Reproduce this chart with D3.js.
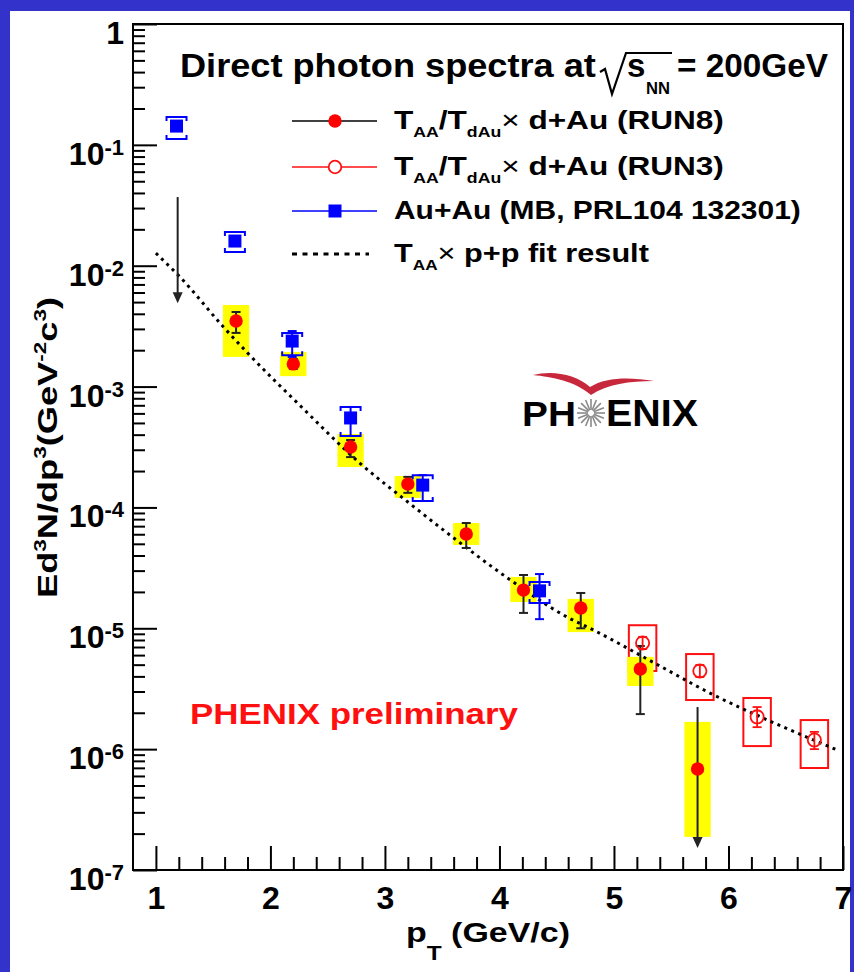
<!DOCTYPE html>
<html><head><meta charset="utf-8">
<script src="https://cdn.jsdelivr.net/npm/d3@7/dist/d3.min.js"></script>
<style>html,body{margin:0;padding:0;background:#3333cc;}svg{display:block;}text{white-space:pre;}</style>
</head><body>
<svg id="chart" width="854" height="972"></svg>
<script>
// ---------------- data ----------------
const xTicks = [1, 2, 3, 4, 5, 6, 7];
const xTickLabels = ["1", "2", "3", "4", "5", "6", "7"];
const yTicks = [1e-7, 1e-6, 1e-5, 1e-4, 1e-3, 1e-2, 1e-1, 1];
const yTickExps = ["-7", "-6", "-5", "-4", "-3", "-2", "-1", ""];

// T_AA/T_dAu x d+Au (RUN8) - filled red
const run8X = [1.7, 2.2, 2.7, 3.2, 3.71, 4.21, 4.71, 5.23, 5.73];
const run8Y = [3.49e-3, 1.54e-3, 3.16e-4, 1.56e-4, 6.03e-5, 2.07e-5, 1.47e-5, 4.6e-6, 6.85e-7];
const run8StatHi = [4.14e-3, 1.69e-3, 3.61e-4, 1.79e-4, 7.43e-5, 2.76e-5, 1.96e-5, 7.14e-6, 2.23e-6];
const run8StatLo = [2.78e-3, 1.40e-3, 2.61e-4, 1.32e-4, 4.62e-5, 1.34e-5, 1.0e-5, 1.95e-6, 1.52e-7];
const run8SysHi = [4.73e-3, 1.93e-3, 4.05e-4, 1.82e-4, 7.43e-5, 2.66e-5, 1.75e-5, 5.8e-6, 1.68e-6];
const run8SysLo = [1.76e-3, 1.22e-3, 2.16e-4, 1.20e-4, 4.89e-5, 1.65e-5, 9.3e-6, 3.33e-6, 1.88e-7];
const run8Arrow = [false, false, false, false, false, false, false, false, true];

// T_AA/T_dAu x d+Au (RUN3) - open red
const run3X = [5.25, 5.75, 6.25, 6.75];
const run3Y = [7.55e-6, 4.43e-6, 1.85e-6, 1.19e-6];
const run3StatHi = [8.47e-6, 4.97e-6, 2.23e-6, 1.39e-6];
const run3StatLo = [6.74e-6, 3.95e-6, 1.52e-6, 1.0e-6];
const run3SysHi = [1.06e-5, 6.12e-6, 2.65e-6, 1.74e-6];
const run3SysLo = [4.43e-6, 2.55e-6, 1.06e-6, 6.98e-7];

// Au+Au (MB, PRL104 132301) - blue squares
const auX = [1.18, 1.69, 2.19, 2.70, 3.33, 4.35];
const auY = [0.143, 0.016, 2.38e-3, 5.5e-4, 1.53e-4, 2.04e-5];
const auStatHi = [0.150, 0.0168, 2.88e-3, 6.78e-4, 1.85e-4, 2.81e-5];
const auStatLo = [0.136, 0.0152, 1.76e-3, 3.9e-4, 1.13e-4, 1.19e-5];
const auSysHi = [0.170, 0.019, 2.77e-3, 6.78e-4, 1.85e-4, 2.42e-5];
const auSysLo = [0.112, 0.013, 1.82e-3, 3.9e-4, 1.13e-4, 1.62e-5];

// upper-limit arrow at low pT
const limX = [1.19];
const limTop = [0.037];
const limTip = [4.9e-3];

// T_AA x p+p fit result
const fitX = [1.0, 1.21, 1.59, 1.80, 2.28, 2.78, 3.21, 3.59, 4.07, 4.59, 4.82, 5.37, 5.87, 6.36, 6.95];
const fitY = [1.27e-2, 8.07e-3, 3.11e-3, 1.90e-3, 6.65e-4, 2.33e-4, 1.09e-4, 5.69e-5, 2.61e-5, 1.24e-5, 9.68e-6, 5.06e-6, 2.81e-6, 1.71e-6, 9.84e-7];

const legendLabels = ["RUN8", "RUN3", "Au+Au (MB, PRL104 132301)", "fit"];

// ---------------- drawing ----------------
const FONT = '"Liberation Sans", Arial, Helvetica, sans-serif';
const svg = d3.select('#chart');
svg.append('rect').attr('width', 854).attr('height', 972).attr('fill', '#3333cc');
svg.append('rect').attr('x', 10).attr('y', 11).attr('width', 840).attr('height', 961).attr('fill', '#ffffff');

const x = d3.scaleLinear().domain([0.8, 7]).range([133, 843]);
const y = d3.scaleLog().domain([1e-7, 1]).range([870, 24]);

svg.append('clipPath').attr('id', 'clip').append('rect')
  .attr('x', 133).attr('y', 24).attr('width', 710).attr('height', 846);
const P = svg.append('g').attr('clip-path', 'url(#clip)');

const idx = n => d3.range(n);

// RUN3 open systematic boxes
P.selectAll('rect.ob').data(idx(run3X.length)).join('rect')
  .attr('x', i => x(run3X[i] - 0.12)).attr('width', i => x(run3X[i] + 0.12) - x(run3X[i] - 0.12))
  .attr('y', i => y(run3SysHi[i])).attr('height', i => y(run3SysLo[i]) - y(run3SysHi[i]))
  .attr('fill', 'none').attr('stroke', '#ff1010').attr('stroke-width', 2);

// RUN8 yellow systematic boxes
P.selectAll('rect.yb').data(idx(run8X.length)).join('rect')
  .attr('x', i => x(run8X[i] - 0.115)).attr('width', i => x(run8X[i] + 0.115) - x(run8X[i] - 0.115))
  .attr('y', i => y(run8SysHi[i])).attr('height', i => y(run8SysLo[i]) - y(run8SysHi[i]))
  .attr('fill', '#ffff00');

// fit curve
const line = d3.line().x(d => x(d[0])).y(d => y(d[1])).curve(d3.curveMonotoneX);
P.append('path').datum(fitX.map((v, i) => [v, fitY[i]]))
  .attr('d', line).attr('fill', 'none').attr('stroke', '#000')
  .attr('stroke-width', 3).attr('stroke-dasharray', '3 4.5');

function seg(g, x1, y1, x2, y2, col, w) {
  g.append('line').attr('x1', x1).attr('y1', y1).attr('x2', x2).attr('y2', y2)
    .attr('stroke', col).attr('stroke-width', w);
}
function arrowHead(g, cx, tip, col) {
  g.append('path').attr('d', `M${cx - 5},${tip - 11}L${cx + 5},${tip - 11}L${cx},${tip}Z`).attr('fill', col);
}

// upper limit arrow
limX.forEach((v, i) => {
  const cx = x(v);
  seg(P, cx, y(limTop[i]), cx, y(limTip[i]) - 6, '#222', 2);
  arrowHead(P, cx, y(limTip[i]), '#222');
});

// RUN8 stat bars
run8X.forEach((v, i) => {
  const cx = x(v), yh = y(run8StatHi[i]), yl = y(run8StatLo[i]);
  if (run8Arrow[i]) {
    seg(P, cx, yh, cx, yl - 6, '#222', 2);
    arrowHead(P, cx, yl, '#222');
  } else {
    seg(P, cx, yh, cx, yl, '#222', 2);
    seg(P, cx - 4.5, yh, cx + 4.5, yh, '#222', 2);
    seg(P, cx - 4.5, yl, cx + 4.5, yl, '#222', 2);
  }
});
// RUN8 markers
P.selectAll('circle.r8').data(idx(run8X.length)).join('circle')
  .attr('cx', i => x(run8X[i])).attr('cy', i => y(run8Y[i])).attr('r', 6.7).attr('fill', '#ff0000');

// RUN3 stat bars and markers
run3X.forEach((v, i) => {
  const cx = x(v), yh = y(run3StatHi[i]), yl = y(run3StatLo[i]);
  seg(P, cx, yh, cx, yl, '#ff1010', 1.8);
  seg(P, cx - 4.5, yh, cx + 4.5, yh, '#ff1010', 1.8);
  seg(P, cx - 4.5, yl, cx + 4.5, yl, '#ff1010', 1.8);
});
P.selectAll('circle.r3').data(idx(run3X.length)).join('circle')
  .attr('cx', i => x(run3X[i])).attr('cy', i => y(run3Y[i])).attr('r', 6.6)
  .attr('fill', 'none').attr('stroke', '#ff1010').attr('stroke-width', 1.8);

// Au+Au stat bars, brackets, markers
auX.forEach((v, i) => {
  const cx = x(v), yh = y(auStatHi[i]), yl = y(auStatLo[i]);
  seg(P, cx, yh, cx, yl, '#0000ff', 2);
  seg(P, cx - 4.5, yh, cx + 4.5, yh, '#0000ff', 2);
  seg(P, cx - 4.5, yl, cx + 4.5, yl, '#0000ff', 2);
  const sh = y(auSysHi[i]), sl = y(auSysLo[i]);
  P.append('path').attr('d', `M${cx - 10},${sh + 4}L${cx - 10},${sh}L${cx + 10},${sh}L${cx + 10},${sh + 4}`)
    .attr('fill', 'none').attr('stroke', '#0000ff').attr('stroke-width', 2);
  P.append('path').attr('d', `M${cx - 10},${sl - 4}L${cx - 10},${sl}L${cx + 10},${sl}L${cx + 10},${sl - 4}`)
    .attr('fill', 'none').attr('stroke', '#0000ff').attr('stroke-width', 2);
});
P.selectAll('rect.au').data(idx(auX.length)).join('rect')
  .attr('x', i => x(auX[i]) - 6.5).attr('y', i => y(auY[i]) - 6.5)
  .attr('width', 13).attr('height', 13).attr('fill', '#0000ff');

// ---------------- axes ----------------
const xAxis = svg.append('g').attr('transform', 'translate(0,870)')
  .call(d3.axisBottom(x).tickValues(xTicks).tickSize(-24).tickPadding(16).tickFormat((d, i) => xTickLabels[i]));
xAxis.select('.domain').remove();
xAxis.selectAll('line').attr('stroke', '#000').attr('stroke-width', 2);
xAxis.selectAll('text').attr('font-family', FONT).attr('font-size', 32).attr('font-weight', 'bold').attr('fill', '#000');

const xMinor = d3.range(12, 70, 2).map(v => v / 10).filter(v => Math.abs(v - Math.round(v)) > 1e-6);
const xAxisMinor = svg.append('g').attr('transform', 'translate(0,870)')
  .call(d3.axisBottom(x).tickValues(xMinor).tickSize(-13).tickFormat(''));
xAxisMinor.select('.domain').remove();
xAxisMinor.selectAll('line').attr('stroke', '#000').attr('stroke-width', 2);

const yAxis = svg.append('g').attr('transform', 'translate(133,0)')
  .call(d3.axisLeft(y).tickValues(yTicks).tickSize(-24).tickPadding(9).tickFormat(''));
yAxis.select('.domain').remove();
yAxis.selectAll('line').attr('stroke', '#000').attr('stroke-width', 2);
yAxis.selectAll('.tick text').each(function (d) {
  const t = d3.select(this);
  t.attr('font-family', FONT).attr('font-size', 32).attr('font-weight', 'bold').attr('fill', '#000').attr('dy', 19.5);
  const e = yTickExps[yTicks.indexOf(d)];
  if (e === '') { t.text('1'); }
  else {
    t.append('tspan').text('10');
    t.append('tspan').attr('font-size', 22).attr('dy', -10).text(e);
  }
});
const yMinor = [];
for (let k = -7; k < 0; k++) for (let m = 2; m <= 9; m++) yMinor.push(m * Math.pow(10, k));
const yAxisMinor = svg.append('g').attr('transform', 'translate(133,0)')
  .call(d3.axisLeft(y).tickValues(yMinor).tickSize(-12).tickFormat(''));
yAxisMinor.select('.domain').remove();
yAxisMinor.selectAll('line').attr('stroke', '#000').attr('stroke-width', 2);

// frame
svg.append('rect').attr('x', 133).attr('y', 24).attr('width', 710).attr('height', 846)
  .attr('fill', 'none').attr('stroke', '#000').attr('stroke-width', 2);

// ---------------- text helper ----------------
function rich(segs, size, o) {
  const g = svg.append('g');
  const inner = g.append('g');
  let cx = 0;
  segs.forEach(s => {
    const fs = size * (s.k || 1);
    const el = inner.append('text').attr('x', cx).attr('y', (s.dy || 0))
      .attr('font-family', FONT).attr('font-size', fs).attr('font-weight', s.w || 'bold')
      .attr('fill', o.fill || '#000').text(s.t);
    cx += el.node().getComputedTextLength() + (s.gap || 0);
  });
  const sx = o.width ? o.width / cx : 1;
  g.attr('transform', `translate(${o.x},${o.y})${o.rot ? ' rotate(' + o.rot + ')' : ''} scale(${sx},1)`);
  return g;
}

// title
rich([{ t: 'Direct photon spectra at' }], 33, { x: 180, y: 77, width: 416 });
svg.append('path').attr('d', 'M600,72 L605,69 L612,94 L626,53 L672,53')
  .attr('fill', 'none').attr('stroke', '#000').attr('stroke-width', 2.2);
rich([{ t: 's' }], 33, { x: 627, y: 77 });
rich([{ t: 'NN' }], 17, { x: 646, y: 94, width: 24 });
rich([{ t: '= 200GeV' }], 33, { x: 677, y: 77, width: 151 });

// legend
const legRows = [121, 167, 211, 254];
const LX1 = 292, LX2 = 377, LM = 335, TX = 394;
seg(svg, LX1, legRows[0], LX2, legRows[0], '#000', 1.6);
svg.append('circle').attr('cx', LM).attr('cy', legRows[0]).attr('r', 6.7).attr('fill', '#ff0000');
seg(svg, LX1, legRows[1], LX2, legRows[1], '#ff1010', 1.6);
svg.append('circle').attr('cx', LM).attr('cy', legRows[1]).attr('r', 6.3).attr('fill', '#fff')
  .attr('stroke', '#ff1010').attr('stroke-width', 1.8);
seg(svg, LX1, legRows[2], LX2, legRows[2], '#0000ff', 1.6);
svg.append('rect').attr('x', LM - 6.5).attr('y', legRows[2] - 6.5).attr('width', 13).attr('height', 13).attr('fill', '#0000ff');
svg.append('line').attr('x1', LX1).attr('y1', legRows[3]).attr('x2', LX2 - 8).attr('y2', legRows[3])
  .attr('stroke', '#000').attr('stroke-width', 3).attr('stroke-dasharray', '5 5.5');

const subAA = { t: 'AA', k: 0.56, dy: 8 };
rich([{ t: 'T' }, subAA, { t: '/T' }, { t: 'dAu', k: 0.56, dy: 8 }, { t: '×', w: 'normal' }, { t: ' d+Au (RUN8)' }], 26, { x: TX, y: legRows[0] + 8, width: 330 });
rich([{ t: 'T' }, subAA, { t: '/T' }, { t: 'dAu', k: 0.56, dy: 8 }, { t: '×', w: 'normal' }, { t: ' d+Au (RUN3)' }], 26, { x: TX, y: legRows[1] + 8, width: 330 });
rich([{ t: legendLabels[2] }], 26, { x: TX, y: legRows[2] + 8, width: 407 });
rich([{ t: 'T' }, subAA, { t: '×', w: 'normal' }, { t: ' p+p fit result' }], 26, { x: TX, y: legRows[3] + 8, width: 255 });

// axis titles
rich([{ t: 'p' }, { t: 'T', k: 0.72, dy: 18 }, { t: ' (GeV/c)' }], 28, { x: 406, y: 942, width: 164 });
rich([{ t: 'Ed' }, { t: '3', k: 0.62, dy: -11 }, { t: 'N/dp' }, { t: '3', k: 0.62, dy: -11 }, { t: '(GeV' },
      { t: '-2', k: 0.62, dy: -11 }, { t: 'c' }, { t: '3', k: 0.62, dy: -11 }, { t: ')' }], 27,
     { x: 57, y: 598, rot: -90, width: 301 });

// PHENIX preliminary
rich([{ t: 'PHENIX preliminary' }], 30, { x: 190, y: 724, width: 328, fill: '#ff1010' });

// PHENIX logo
svg.append('path')
  .attr('d', 'M533,375 C552,370 576,374 590,387 C606,377 630,377 654,381 C630,381 607,384 591,395 C575,381 552,377 533,375 Z')
  .attr('fill', '#c8283c');
rich([{ t: 'PH' }], 36, { x: 522, y: 426, width: 54 });
rich([{ t: 'ENIX' }], 36, { x: 606, y: 426, width: 92 });
const star = svg.append('g').attr('transform', 'translate(591,413)');
d3.range(16).forEach(k => {
  const a = k * Math.PI / 8;
  star.append('line').attr('x1', 3 * Math.cos(a)).attr('y1', 3 * Math.sin(a))
    .attr('x2', 14 * Math.cos(a)).attr('y2', 14 * Math.sin(a))
    .attr('stroke', '#8a8a8a').attr('stroke-width', 1.6);
});
</script>
</body></html>
